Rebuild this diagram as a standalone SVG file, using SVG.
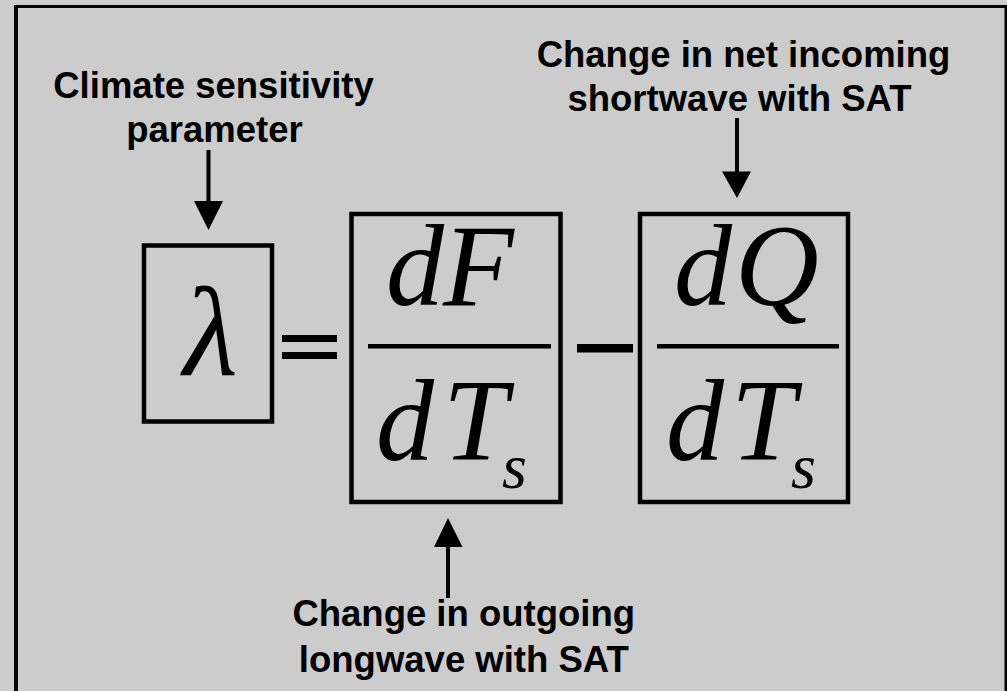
<svg xmlns="http://www.w3.org/2000/svg" width="1007" height="691" viewBox="0 0 1007 691">
<style>
.lbl{font-family:"Liberation Sans",Arial,sans-serif;font-weight:bold;font-size:36.5px;fill:#000;text-anchor:middle}
.m{font-family:"Liberation Serif","Times New Roman",serif;font-style:italic;font-size:116px;fill:#000}
.sub{font-size:64px}
.box{fill:none;stroke:#000;stroke-width:4.5}
.ln{stroke:#000;stroke-width:4}
</style>
<rect x="0" y="0" width="1007" height="691" fill="#cccccc"/>
<g id="frame" fill="#000">
<rect x="14" y="5" width="4" height="686"/>
<rect x="14" y="5" width="993" height="3"/>
<rect x="1004.5" y="5" width="2.5" height="686"/>
</g>
<g id="lambda">
<rect class="box" x="144" y="245.5" width="128" height="176"/>
<text class="m" x="210.5" y="375" text-anchor="middle" style="font-size:126px">λ</text>
</g>
<g id="equals" fill="#000">
<rect x="282" y="335" width="55" height="7"/>
<rect x="282" y="352" width="55" height="7"/>
</g>
<g id="dFdTs">
<rect class="box" x="351.5" y="214" width="209" height="288"/>
<text class="m" x="386" y="305">d<tspan x="443">F</tspan></text>
<rect x="368" y="344" width="183" height="4.5" fill="#000"/>
<text class="m" x="376" y="460">d<tspan x="443">T</tspan><tspan class="sub" x="502" y="488">s</tspan></text>
</g>
<g id="minus"><rect x="577" y="344" width="56" height="8.5" fill="#000"/></g>
<g id="dQdTs">
<rect class="box" x="640" y="214" width="208" height="288"/>
<text class="m" x="674" y="305">d<tspan x="735">Q</tspan></text>
<rect x="657" y="344" width="182" height="4.5" fill="#000"/>
<text class="m" x="666" y="460">d<tspan x="731">T</tspan><tspan class="sub" x="791" y="488">s</tspan></text>
</g>
<g id="label-lambda">
<text class="lbl" x="213.5" y="98">Climate sensitivity</text>
<text class="lbl" x="214.5" y="142">parameter</text>
</g>
<g id="label-sw">
<text class="lbl" x="743.5" y="66.5">Change in net incoming</text>
<text class="lbl" x="739.5" y="110.5">shortwave with SAT</text>
</g>
<g id="label-lw">
<text class="lbl" x="463.7" y="626">Change in outgoing</text>
<text class="lbl" x="463.8" y="671.5">longwave with SAT</text>
</g>
<g id="connectors" fill="#000">
<line class="ln" x1="208.5" y1="150" x2="208.5" y2="203"/>
<polygon points="194,201 223,201 208.5,230"/>
<line class="ln" x1="737" y1="118" x2="737" y2="174"/>
<polygon points="722,171.5 751,171.5 737,198"/>
<line class="ln" x1="448" y1="545" x2="448" y2="598"/>
<polygon points="434,547 462.5,547 448,518"/>
</g>
</svg>
